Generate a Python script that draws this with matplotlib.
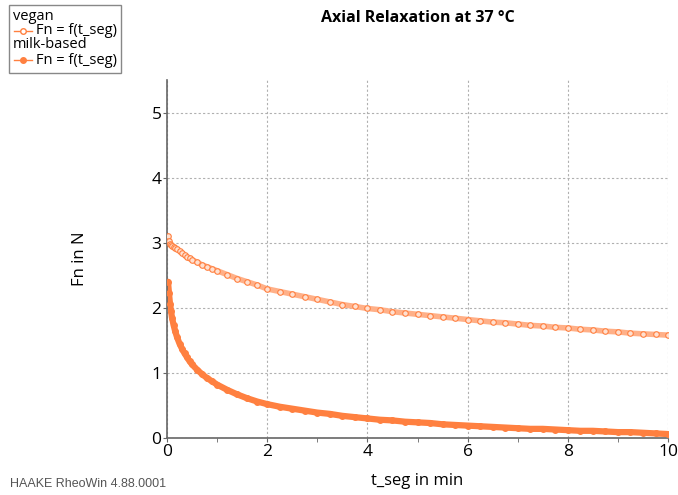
import matplotlib.pyplot as plt
from matplotlib.lines import Line2D
from matplotlib.patches import Rectangle

# time points (min)
t_seg = [0.02, 0.04, 0.06, 0.08, 0.10, 0.13, 0.16, 0.20, 0.25, 0.30, 0.35, 0.40,
         0.45, 0.50, 0.6, 0.7, 0.8, 0.9, 1.0, 1.2, 1.4, 1.6, 1.8,
         2.0, 2.25, 2.5, 2.75, 3.0, 3.25, 3.5, 3.75, 4.0, 4.25, 4.5, 4.75,
         5.0, 5.25, 5.5, 5.75, 6.0, 6.25, 6.5, 6.75, 7.0, 7.25, 7.5, 7.75,
         8.0, 8.25, 8.5, 8.75, 9.0, 9.25, 9.5, 9.75, 10.0]

fn_vegan = [3.10, 3.02, 2.98, 2.96, 2.95, 2.93, 2.92, 2.90, 2.87, 2.84, 2.81, 2.78,
            2.76, 2.74, 2.70, 2.66, 2.63, 2.60, 2.57, 2.51, 2.45, 2.40, 2.35,
            2.29, 2.25, 2.21, 2.17, 2.13, 2.09, 2.05, 2.02, 1.99, 1.97, 1.94, 1.92,
            1.90, 1.88, 1.86, 1.84, 1.82, 1.80, 1.78, 1.77, 1.75, 1.73, 1.72, 1.70,
            1.69, 1.67, 1.66, 1.64, 1.63, 1.61, 1.60, 1.59, 1.58]

fn_milk = [2.40, 2.22, 2.06, 1.95, 1.85, 1.74, 1.65, 1.55, 1.45, 1.37, 1.30, 1.24,
           1.18, 1.13, 1.05, 0.98, 0.92, 0.87, 0.82, 0.74, 0.67, 0.61, 0.56,
           0.52, 0.48, 0.45, 0.42, 0.39, 0.37, 0.34, 0.32, 0.30, 0.28, 0.27, 0.25,
           0.24, 0.23, 0.21, 0.20, 0.19, 0.18, 0.17, 0.16, 0.15, 0.14, 0.14, 0.13,
           0.12, 0.11, 0.11, 0.10, 0.09, 0.09, 0.08, 0.07, 0.06]

orange = '#ff8040'
light = '#ffb088'
gray = '#666666'

plt.rcParams['font.family'] = ['Open Sans', 'DejaVu Sans']

fig = plt.figure(figsize=(6.78, 4.95), dpi=100)
ax = fig.add_axes([0.2463, 0.1152, 0.739, 0.7232])

ax.plot(t_seg, fn_vegan, color=light, lw=4, solid_capstyle='round', zorder=2)
ax.plot(t_seg, fn_vegan, color=orange, lw=0, marker='o', ms=4, mfc='#ffe0d0',
        mec=orange, mew=0.8, zorder=3)
ax.plot(t_seg, fn_milk, color=orange, lw=4.5, solid_capstyle='round', zorder=2)
ax.plot(t_seg, fn_milk, color=orange, lw=0, marker='o', ms=4, zorder=3)

ax.set_xlim(0, 10)
ax.set_ylim(0, 5.5)
ax.set_xticks([0, 2, 4, 6, 8, 10])
ax.set_xticks([1, 3, 5, 7, 9], minor=True)
ax.set_yticks([0, 1, 2, 3, 4, 5])
ax.grid(True, which='major', color='#b0b0b0', linestyle=(0, (2, 2)), lw=0.8)
for s in ['top', 'right']:
    ax.spines[s].set_visible(False)
for s in ['left', 'bottom']:
    ax.spines[s].set_color(gray)
    ax.spines[s].set_linewidth(1.2)
ax.tick_params(which='both', colors=gray, labelcolor='black', labelsize=12.5,
               direction='out', length=3, pad=1)

ax.set_title('Axial Relaxation at 37 °C', fontsize=11.5, fontweight='bold', pad=42)
ax.set_xlabel('t_seg in min', fontsize=12, labelpad=10)
ax.set_ylabel('Fn in N', fontsize=12, labelpad=46)

# legend box (top-left)
W, H = 678, 495
def fx(px):
    return px / W
def fy(py):
    return 1 - py / H

fig.patches.append(Rectangle((fx(9), fy(73)), fx(121) - fx(9), fy(5) - fy(73),
                             transform=fig.transFigure, fill=False,
                             edgecolor='#888888', lw=1))
fig.text(fx(13), fy(17), 'vegan', fontsize=10.5, va='center')
fig.text(fx(36), fy(31), 'Fn = f(t_seg)', fontsize=10.5, va='center')
fig.text(fx(13), fy(45), 'milk-based', fontsize=10.5, va='center')
fig.text(fx(36), fy(60), 'Fn = f(t_seg)', fontsize=10.5, va='center')
fig.lines.append(Line2D([fx(14), fx(23), fx(32)], [fy(31)] * 3,
                        transform=fig.transFigure, color=orange, lw=1,
                        marker='o', ms=4, mfc='white', mec=orange,
                        markevery=[1]))
fig.lines.append(Line2D([fx(14), fx(23), fx(32)], [fy(60)] * 3,
                        transform=fig.transFigure, color=orange, lw=1,
                        marker='o', ms=4, markevery=[1]))

fig.text(fx(10), fy(484), 'HAAKE RheoWin 4.88.0001', fontsize=9, color='#555555',
         family=['Liberation Sans', 'DejaVu Sans'], va='center')

fig.savefig('out.png', dpi=100)
